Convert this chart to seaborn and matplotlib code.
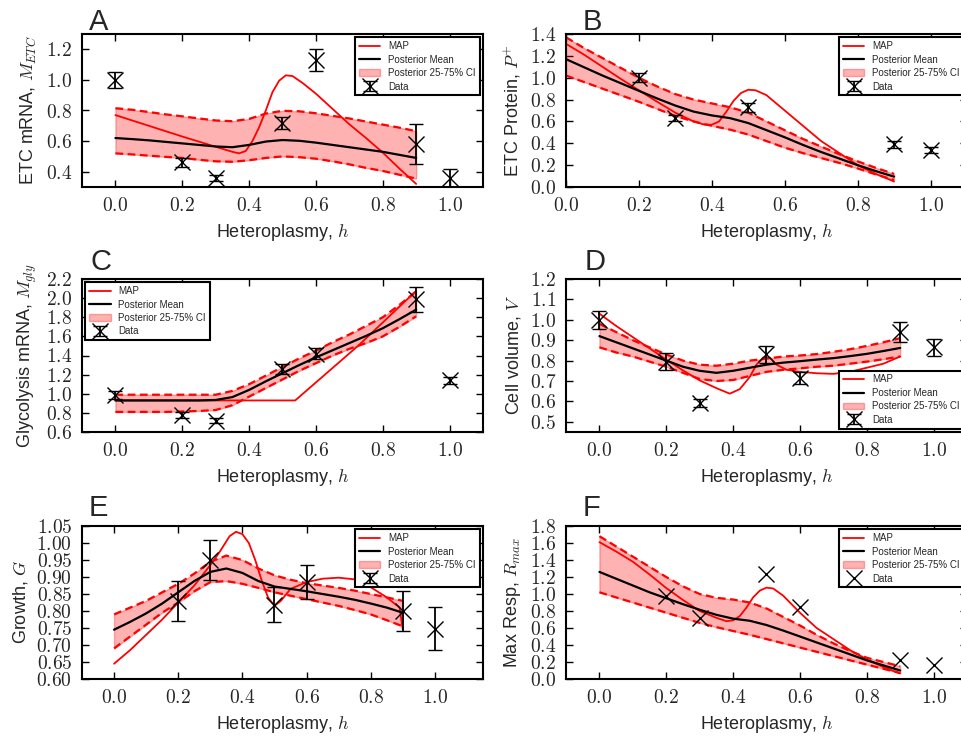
import pandas as pd
import seaborn as sns
import matplotlib.pyplot as plt
from matplotlib.ticker import FuncFormatter, MultipleLocator

# common heteroplasmy grid for the posterior mean / CI curves
grid_h = [0.0, 0.05, 0.1, 0.15, 0.2, 0.25, 0.3, 0.35, 0.4, 0.45,
          0.5, 0.55, 0.6, 0.65, 0.7, 0.75, 0.8, 0.85, 0.9]

# ---- A: ETC mRNA
a_map_h = [0.0, 0.1, 0.2, 0.3, 0.35, 0.37, 0.39, 0.41, 0.43, 0.45, 0.47, 0.49,
           0.51, 0.53, 0.56, 0.6, 0.65, 0.7, 0.75, 0.8, 0.85, 0.9]
a_map = [0.77, 0.70, 0.63, 0.563, 0.53, 0.52, 0.535, 0.6, 0.69, 0.8, 0.92, 0.995,
         1.03, 1.025, 0.98, 0.91, 0.81, 0.71, 0.62, 0.525, 0.42, 0.32]
a_mean = [0.62, 0.613, 0.605, 0.595, 0.585, 0.575, 0.565, 0.56, 0.575, 0.597,
          0.607, 0.602, 0.59, 0.575, 0.56, 0.545, 0.53, 0.51, 0.49]
a_hi = [0.815, 0.805, 0.79, 0.775, 0.762, 0.748, 0.735, 0.73, 0.745, 0.78,
        0.798, 0.795, 0.782, 0.765, 0.748, 0.728, 0.708, 0.688, 0.665]
a_lo = [0.52, 0.513, 0.505, 0.497, 0.49, 0.478, 0.468, 0.465, 0.475, 0.49,
        0.5, 0.495, 0.485, 0.468, 0.448, 0.425, 0.405, 0.38, 0.355]
a_data_h = [0.0, 0.2, 0.3, 0.5, 0.6, 0.9, 1.0]
a_data = [1.0, 0.462, 0.36, 0.716, 1.13, 0.58, 0.36]
a_err = [0.05, 0.03, 0.02, 0.04, 0.07, 0.13, 0.06]

# ---- B: ETC protein
b_map_h = [0.0, 0.05, 0.1, 0.15, 0.2, 0.25, 0.3, 0.35, 0.38, 0.4, 0.42, 0.44,
           0.46, 0.48, 0.5, 0.52, 0.55, 0.6, 0.65, 0.7, 0.75, 0.8, 0.85, 0.9]
b_map = [1.31, 1.21, 1.10, 0.99, 0.885, 0.78, 0.68, 0.6, 0.57, 0.57, 0.6, 0.69,
         0.79, 0.86, 0.89, 0.885, 0.84, 0.7, 0.56, 0.42, 0.31, 0.2, 0.12, 0.05]
b_mean = [1.17, 1.095, 1.02, 0.95, 0.88, 0.81, 0.745, 0.69, 0.655, 0.63,
          0.585, 0.52, 0.455, 0.385, 0.32, 0.26, 0.2, 0.145, 0.095]
b_hi = [1.37, 1.27, 1.18, 1.09, 1.0, 0.92, 0.85, 0.8, 0.765, 0.73,
        0.68, 0.6, 0.52, 0.44, 0.37, 0.3, 0.235, 0.175, 0.12]
b_lo = [1.02, 0.96, 0.9, 0.84, 0.78, 0.715, 0.65, 0.6, 0.56, 0.525,
        0.48, 0.42, 0.36, 0.31, 0.265, 0.22, 0.17, 0.115, 0.065]
b_data_h = [0.2, 0.3, 0.5, 0.9, 1.0]
b_data = [1.0, 0.632, 0.73, 0.39, 0.34]
b_err = [0.04, 0.03, 0.04, 0.03, 0.03]

# ---- C: glycolysis mRNA
c_map_h = [0.0, 0.538, 0.729, 0.898]
c_map = [0.93, 0.93, 1.51, 2.07]
c_mean = [0.93, 0.93, 0.93, 0.93, 0.93, 0.93, 0.935, 0.965, 1.04, 1.13,
          1.215, 1.3, 1.38, 1.455, 1.53, 1.605, 1.685, 1.78, 1.88]
c_hi = [0.99, 0.99, 0.99, 0.99, 0.99, 0.99, 0.99, 1.03, 1.1, 1.19,
        1.28, 1.37, 1.45, 1.54, 1.62, 1.71, 1.8, 1.93, 2.07]
c_lo = [0.81, 0.81, 0.81, 0.81, 0.815, 0.82, 0.83, 0.88, 0.97, 1.06,
        1.15, 1.24, 1.32, 1.4, 1.47, 1.53, 1.6, 1.7, 1.81]
c_data_h = [0.0, 0.2, 0.3, 0.5, 0.6, 0.9, 1.0]
c_data = [0.985, 0.78, 0.72, 1.26, 1.42, 1.99, 1.14]
c_err = [0.04, 0.03, 0.03, 0.05, 0.06, 0.13, 0.04]

# ---- D: cell volume
d_map_h = [0.0, 0.05, 0.1, 0.15, 0.2, 0.25, 0.3, 0.35, 0.39, 0.42, 0.45, 0.47,
           0.49, 0.51, 0.53, 0.56, 0.6, 0.65, 0.7, 0.75, 0.8, 0.85, 0.9]
d_map = [1.03, 0.97, 0.915, 0.86, 0.805, 0.752, 0.703, 0.665, 0.638, 0.66, 0.72, 0.78,
         0.815, 0.815, 0.78, 0.755, 0.745, 0.738, 0.735, 0.745, 0.765, 0.785, 0.82]
d_mean = [0.92, 0.89, 0.86, 0.83, 0.80, 0.77, 0.75, 0.74, 0.75, 0.765,
          0.78, 0.79, 0.797, 0.805, 0.812, 0.822, 0.833, 0.847, 0.862]
d_hi = [0.98, 0.94, 0.9, 0.865, 0.83, 0.8, 0.78, 0.775, 0.785, 0.8,
        0.81, 0.82, 0.825, 0.832, 0.843, 0.856, 0.872, 0.89, 0.91]
d_lo = [0.865, 0.84, 0.82, 0.795, 0.77, 0.74, 0.71, 0.70, 0.705, 0.725,
        0.745, 0.755, 0.762, 0.77, 0.775, 0.785, 0.795, 0.807, 0.82]
d_data_h = [0.0, 0.2, 0.3, 0.5, 0.6, 0.9, 1.0]
d_data = [1.0, 0.795, 0.593, 0.83, 0.713, 0.94, 0.865]
d_err = [0.045, 0.04, 0.02, 0.04, 0.03, 0.05, 0.04]

# ---- E: growth
e_map_h = [0.0, 0.05, 0.1, 0.15, 0.2, 0.25, 0.3, 0.33, 0.36, 0.38, 0.4, 0.42,
           0.44, 0.46, 0.48, 0.5, 0.52, 0.55, 0.6, 0.65, 0.7, 0.75, 0.8,
           0.85, 0.89, 0.9]
e_map = [0.645, 0.685, 0.73, 0.775, 0.825, 0.875, 0.935, 0.975, 1.02, 1.033, 1.026,
         1.0, 0.95, 0.89, 0.84, 0.815, 0.83, 0.865, 0.885, 0.895, 0.898, 0.893,
         0.87, 0.84, 0.81, 0.745]
e_mean = [0.745, 0.768, 0.793, 0.822, 0.855, 0.888, 0.915, 0.925, 0.912, 0.888,
          0.872, 0.865, 0.858, 0.85, 0.842, 0.833, 0.822, 0.81, 0.795]
e_hi = [0.79, 0.81, 0.83, 0.855, 0.88, 0.91, 0.945, 0.963, 0.95, 0.925,
        0.905, 0.892, 0.882, 0.875, 0.868, 0.86, 0.85, 0.84, 0.83]
e_lo = [0.69, 0.725, 0.76, 0.795, 0.825, 0.858, 0.885, 0.888, 0.88, 0.868,
        0.855, 0.845, 0.835, 0.825, 0.815, 0.803, 0.79, 0.773, 0.755]
e_data_h = [0.2, 0.3, 0.5, 0.6, 0.9, 1.0]
e_data = [0.829, 0.95, 0.819, 0.885, 0.80, 0.748]
e_err = [0.058, 0.06, 0.052, 0.05, 0.06, 0.063]

# ---- F: max respiration
f_map_h = [0.0, 0.05, 0.1, 0.15, 0.2, 0.25, 0.3, 0.35, 0.38, 0.4, 0.42, 0.44,
           0.46, 0.48, 0.5, 0.52, 0.55, 0.6, 0.65, 0.7, 0.75, 0.8, 0.85, 0.9]
f_map = [1.61, 1.5, 1.38, 1.23, 1.07, 0.93, 0.8, 0.72, 0.68, 0.69, 0.74, 0.84,
         0.96, 1.04, 1.075, 1.065, 0.98, 0.78, 0.6, 0.47, 0.34, 0.23, 0.14, 0.065]
f_mean = [1.26, 1.18, 1.1, 1.02, 0.95, 0.88, 0.815, 0.755, 0.71, 0.685,
          0.635, 0.57, 0.5, 0.43, 0.36, 0.29, 0.22, 0.16, 0.1]
f_hi = [1.68, 1.56, 1.44, 1.32, 1.2, 1.09, 1.0, 0.955, 0.935, 0.9,
        0.83, 0.73, 0.63, 0.52, 0.42, 0.33, 0.25, 0.2, 0.15]
f_lo = [1.02, 0.96, 0.9, 0.84, 0.78, 0.72, 0.66, 0.61, 0.565, 0.52,
        0.47, 0.42, 0.37, 0.32, 0.27, 0.22, 0.17, 0.12, 0.07]
f_data_h = [0.2, 0.3, 0.5, 0.6, 0.9, 1.0]
f_data = [0.98, 0.72, 1.235, 0.85, 0.22, 0.17]
f_err = None

panels = [
    dict(letter='A', ylabel='ETC mRNA, $M_{ETC}$', map_h=a_map_h, map=a_map, mean=a_mean,
         hi=a_hi, lo=a_lo, dh=a_data_h, d=a_data, err=a_err,
         xlim=(-0.1, 1.1), ylim=(0.3, 1.3), ystep=0.2, fmt='%.1f', loc='upper right'),
    dict(letter='B', ylabel='ETC Protein, $P^{+}$', map_h=b_map_h, map=b_map, mean=b_mean,
         hi=b_hi, lo=b_lo, dh=b_data_h, d=b_data, err=b_err,
         xlim=(0.0, 1.1), ylim=(0.0, 1.4), ystep=0.2, fmt='%.1f', loc='upper right'),
    dict(letter='C', ylabel='Glycolysis mRNA, $M_{gly}$', map_h=c_map_h, map=c_map, mean=c_mean,
         hi=c_hi, lo=c_lo, dh=c_data_h, d=c_data, err=c_err,
         xlim=(-0.1, 1.1), ylim=(0.6, 2.2), ystep=0.2, fmt='%.1f', loc='upper left'),
    dict(letter='D', ylabel='Cell volume, $V$', map_h=d_map_h, map=d_map, mean=d_mean,
         hi=d_hi, lo=d_lo, dh=d_data_h, d=d_data, err=d_err,
         xlim=(-0.1, 1.1), ylim=(0.45, 1.2), ystep=0.1, fmt='%.1f', loc='lower right'),
    dict(letter='E', ylabel='Growth, $G$', map_h=e_map_h, map=e_map, mean=e_mean,
         hi=e_hi, lo=e_lo, dh=e_data_h, d=e_data, err=e_err,
         xlim=(-0.1, 1.15), ylim=(0.6, 1.05), ystep=0.05, fmt='%.2f', loc='upper right'),
    dict(letter='F', ylabel='Max Resp, $R_{max}$', map_h=f_map_h, map=f_map, mean=f_mean,
         hi=f_hi, lo=f_lo, dh=f_data_h, d=f_data, err=f_err,
         xlim=(-0.1, 1.1), ylim=(0.0, 1.8), ystep=0.2, fmt='%.1f', loc='upper right'),
]

sns.set_style("ticks")
plt.rcParams['font.family'] = ['Liberation Sans', 'DejaVu Sans']
plt.rcParams['mathtext.fontset'] = 'cm'
plt.rcParams['xtick.direction'] = 'in'
plt.rcParams['ytick.direction'] = 'in'

W, H = 962, 738
fig = plt.figure(figsize=(W / 100, H / 100), dpi=100)

# axes boxes in pixels: left, top, width, height (right column runs off the edge)
lefts = [82, 566]
tops = [34, 279, 526]
ax_w, ax_h = 401, 153
letter_xy = [(89, 30), (583, 30), (90, 270), (585, 270), (89, 516), (583, 516)]

for i, p in enumerate(panels):
    col, row = i % 2, i // 2
    l, t = lefts[col], tops[row]
    ax = fig.add_axes([l / W, 1 - (t + ax_h) / H, ax_w / W, ax_h / H])

    sns.lineplot(x=p['map_h'], y=p['map'], ax=ax, color='red', linewidth=1.3,
                 label='MAP', sort=False)
    sns.lineplot(x=grid_h, y=p['mean'], ax=ax, color='black', linewidth=1.6,
                 label='Posterior Mean', sort=False)
    ax.fill_between(grid_h, p['lo'], p['hi'], color='red', alpha=0.3, linewidth=1,
                    label='Posterior 25-75% CI')
    for edge in (p['lo'], p['hi']):
        sns.lineplot(x=grid_h, y=edge, ax=ax, color='red', linewidth=1.6,
                     linestyle=(0, (3.5, 2)), sort=False)
    ax.errorbar(p['dh'], p['d'], yerr=p['err'], fmt='x', color='black', ms=12, mew=1,
                elinewidth=1.3, capsize=5, capthick=1.3, label='Data')

    ax.set_xlim(*p['xlim'])
    ax.set_ylim(*p['ylim'])
    ax.xaxis.set_major_locator(MultipleLocator(0.2))
    ax.yaxis.set_major_locator(MultipleLocator(p['ystep']))
    ax.xaxis.set_major_formatter(FuncFormatter(lambda v, pos: '$%.1f$' % v))
    ax.yaxis.set_major_formatter(FuncFormatter(lambda v, pos, f=p['fmt']: '$' + f % v + '$'))
    ax.tick_params(which='major', direction='in', top=True, right=True, length=5,
                   width=1, labelsize=14, pad=7, color='black')
    for s in ax.spines.values():
        s.set_linewidth(1.5)
        s.set_color('black')
    ax.set_xlabel('Heteroplasmy, $h$', fontsize=13, labelpad=5)
    ax.set_ylabel(p['ylabel'], fontsize=13, labelpad=5)

    leg = ax.legend(loc=p['loc'], fontsize=7, frameon=True, fancybox=False,
                    framealpha=1, edgecolor='black', borderaxespad=0.35,
                    labelspacing=0.35, handlelength=2.2)
    leg.get_frame().set_linewidth(1.5)

    lx, ly = letter_xy[i]
    fig.text(lx / W, 1 - ly / H, p['letter'], fontsize=21, ha='left', va='baseline')

fig.savefig('out.png', dpi=100)
